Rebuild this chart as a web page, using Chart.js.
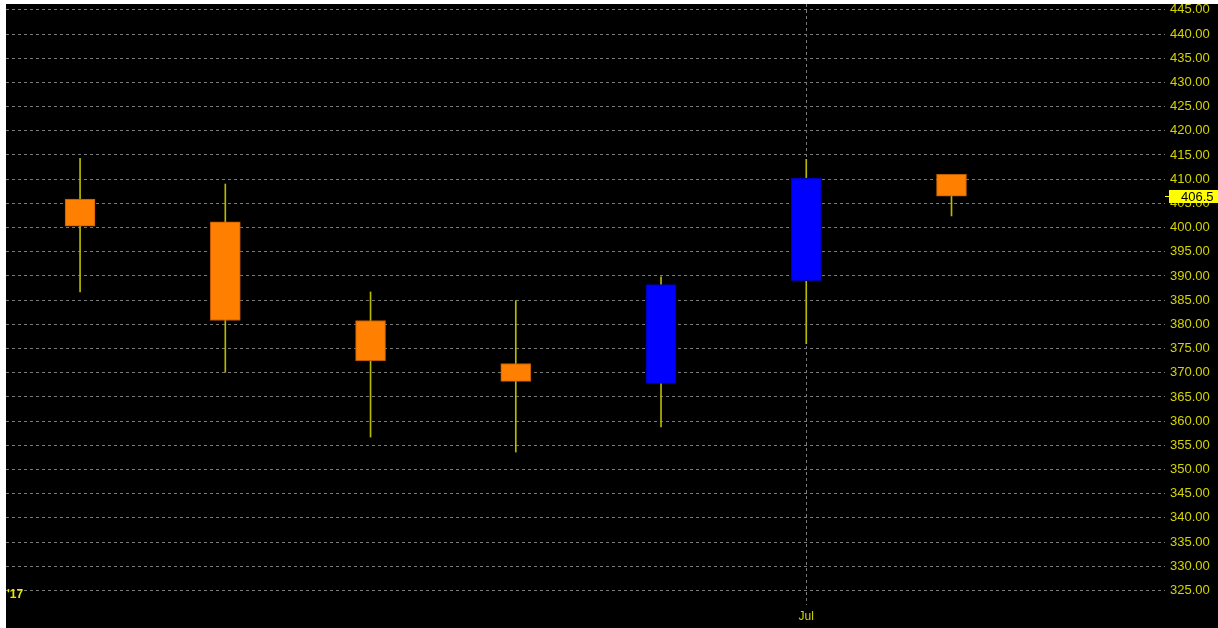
<!DOCTYPE html>
<html>
<head>
<meta charset="utf-8">
<script src="https://cdn.jsdelivr.net/npm/chart.js@4"></script>
<style>
  html, body { margin: 0; padding: 0; background: #fff; }
  #wrap { position: absolute; left: 6px; top: 4px; width: 1212px; height: 624px; background: #000; }
</style>
</head>
<body>
<div id="wrap"><canvas id="c" width="1212" height="624"></canvas></div>
<script>
// monthly candles, 2017
const months = ["Feb", "Mar", "Apr", "May", "Jun", "Jul", "Aug"];
const opens  = [405.9, 401.2, 380.8, 371.9, 367.8, 389.0, 411.0];
const highs  = [414.3, 409.0, 386.7, 384.9, 389.8, 414.1, 411.0];
const lows   = [386.7, 370.1, 356.7, 353.6, 358.8, 376.0, 402.4];
const closes = [400.3, 380.8, 372.5, 368.2, 388.2, 410.2, 406.5];
const yTicks = [325, 330, 335, 340, 345, 350, 355, 360, 365, 370, 375, 380, 385,
  390, 395, 400, 405, 410, 415, 420, 425, 430, 435, 440, 445];
const xTickLabels = { 5: "Jul" };
const yearLabel = "'17";
const lastPrice = 406.5;

const AXIS_YELLOW = "#d4d400";
const font = "Liberation Sans";

const bodies = months.map((m, i) => ({ x: i, y: [opens[i], closes[i]] }));
const wicks = months.map((m, i) => ({ x: i, y: [lows[i], highs[i]] }));
const upDown = months.map((m, i) => closes[i] >= opens[i]);

const extras = {
  id: "extras",
  afterDraw(chart) {
    const ctx = chart.ctx;
    const area = chart.chartArea;
    const y = chart.scales.y;
    ctx.save();
    // year marker
    ctx.fillStyle = "#e6e600";
    ctx.font = "bold 12px '" + font + "'";
    ctx.textAlign = "left";
    ctx.textBaseline = "middle";
    ctx.fillText(yearLabel, area.left + 1, y.getPixelForValue(324.1));
    // last price tag
    const py = Math.round(y.getPixelForValue(lastPrice)) + 0.5;
    ctx.strokeStyle = "#ffff00";
    ctx.lineWidth = 1;
    ctx.beginPath();
    ctx.moveTo(area.right, py);
    ctx.lineTo(area.right + 4, py);
    ctx.stroke();
    ctx.fillStyle = "#ffff00";
    ctx.fillRect(area.right + 4, py - 6.5, 60, 13);
    ctx.fillStyle = "#000";
    ctx.font = "13px '" + font + "'";
    ctx.fillText(lastPrice.toFixed(1), area.right + 16, py + 0.5);
    ctx.restore();
  }
};

new Chart(document.getElementById("c"), {
  type: "bar",
  data: {
    datasets: [
      {
        label: "body",
        data: bodies,
        grouped: false,
        barThickness: 30,
        backgroundColor: upDown.map(u => (u ? "#0000ff" : "#ff8000")),
        borderColor: upDown.map(u => (u ? "#0000b0" : "#c05a00")),
        borderWidth: 1,
        borderSkipped: false,
      },
      {
        label: "wick",
        data: wicks,
        grouped: false,
        barThickness: 1,
        backgroundColor: "#b8b800",
        borderWidth: 0,
      },
    ],
  },
  options: {
    responsive: false,
    animation: false,
    layout: { padding: 0 },
    plugins: { legend: { display: false }, tooltip: { enabled: false } },
    scales: {
      x: {
        type: "linear",
        offset: false,
        min: -0.51,
        max: 7.47,
        afterBuildTicks: (s) => {
          s.ticks = Object.keys(xTickLabels).map(v => ({ value: Number(v) }));
        },
        afterFit: (s) => { s.height = 23; s.paddingLeft = 0; s.paddingRight = 0; },
        ticks: {
          color: AXIS_YELLOW,
          font: { family: font, size: 12 },
          padding: 4,
          callback: (v) => xTickLabels[v] || "",
        },
        grid: { color: "#7a7a7a", lineWidth: 1, drawTicks: false, offset: false },
        border: { display: false, dash: [3, 3] },
      },
      y: {
        position: "right",
        min: 322.0,
        max: 446.2,
        afterBuildTicks: (s) => { s.ticks = yTicks.map(v => ({ value: v })); },
        afterFit: (s) => { s.width = 53; s.paddingTop = 0; s.paddingBottom = 0; },
        ticks: {
          color: AXIS_YELLOW,
          font: { family: font, size: 13 },
          padding: 5,
          callback: (v) => Number(v).toFixed(2),
        },
        grid: { color: "#7a7a7a", lineWidth: 1, drawTicks: false },
        border: { display: false, dash: [3, 3] },
      },
    },
  },
  plugins: [extras],
});
</script>
</body>
</html>
